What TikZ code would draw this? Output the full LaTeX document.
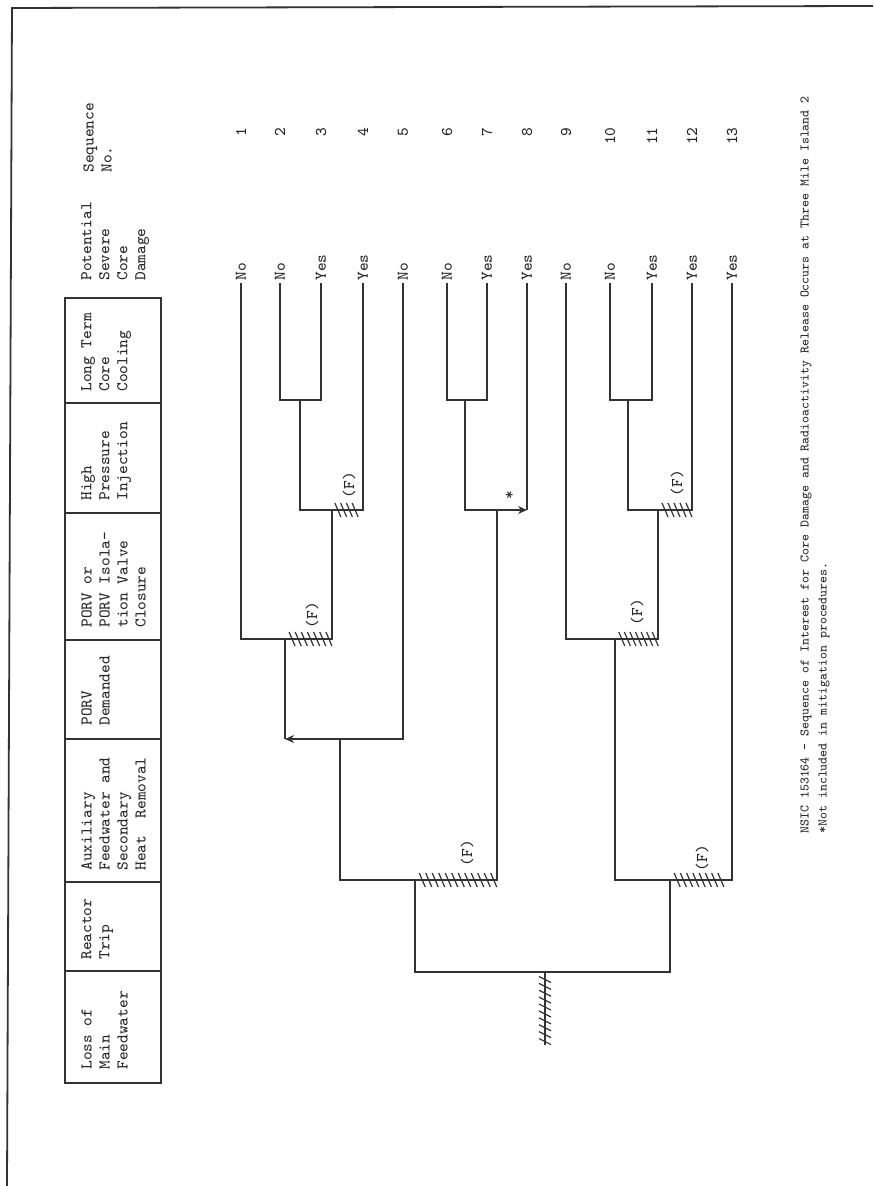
\documentclass[tikz,border=0pt]{standalone}
\usetikzlibrary{calc, positioning}
\usetikzlibrary{arrows.meta}

\tikzset{
  branch/.style={line width=0.9pt, draw=black!80},
  tick/.style={line width=0.6pt, draw=black!80},
  rotlabel/.style={rotate=90, inner sep=0pt, align=left, text=black!85,
    font=\ttfamily\fontsize{8.2}{9}\selectfont},
  caplabel/.style={rotlabel, font=\ttfamily\fontsize{6.55}{9}\selectfont},
  tip/.style={-{Stealth[length=4.5pt, width=4pt]}},
}

% short strokes across a failed branch
\newcommand{\hatchrow}[4]{%
  \foreach \k in {1,...,#4} {
    \pgfmathsetmacro{\hx}{#1+(#2-#1)*(\k-0.5)/#4}
    \draw[tick] (\hx-3,#3-7) -- (\hx+3,#3+7);
  }%
}
\newcommand{\hatchcol}[4]{%
  \foreach \k in {1,...,#4} {
    \pgfmathsetmacro{\hy}{#2+(#3-#2)*(\k-0.5)/#4}
    \draw[tick] (#1-6,\hy-3) -- (#1+6,\hy+3);
  }%
}

\begin{document}
\begin{tikzpicture}[x=0.5pt, y=-0.5pt]
\useasboundingbox (0,0) rectangle (873,1186);

\def\yEnd{283}
\def\yLT{400}
\def\yHP{510}
\def\yPI{639}
\def\yPD{739}
\def\yAF{880}
\def\yRT{972}
\def\yIE{1045}

% page edge
\draw[branch] (873,6) -- (12,8) -- (7,1186);

% heading boxes
\draw[branch] (65,298) rectangle (161,1083);
\foreach \y in {403,513,640,739,882,971} {
  \draw[branch] (65,\y) -- (161,\y);
}

\node[rotlabel, anchor=north west] (hSeq) at (83,173) {Sequence\\No.};
\node[rotlabel, anchor=north west] (hPSCD) at (81,281) {Potential\\Severe\\Core\\Damage};
\node[rotlabel, anchor=north west] (hLTCC) at (81,392) {Long Term\\Core\\Cooling};
\node[rotlabel, anchor=north west] (hHPI) at (81,501) {High\\Pressure\\Injection};
\node[rotlabel, anchor=north west] (hIso) at (81,628) {PORV or\\PORV Isola-\\tion Valve\\Closure};
\node[rotlabel, anchor=north west] (hPORV) at (81,726) {PORV\\Demanded};
\node[rotlabel, anchor=north west] (hAFW) at (81,871) {Auxiliary\\Feedwater and\\Secondary\\Heat\ \ Removal};
\node[rotlabel, anchor=north west] (hRT) at (81,960) {Reactor\\Trip};
\node[rotlabel, anchor=north west] (hLMFW) at (81,1070) {Loss of\\Main\\Feedwater};

% end points of the thirteen sequences
\foreach \i/\x/\res in {1/241/No, 2/280/No, 3/321/Yes, 4/363/Yes, 5/403/No,
    6/447/No, 7/487/Yes, 8/527/Yes, 9/566/No, 10/610/No, 11/652/Yes,
    12/692/Yes, 13/732/Yes} {
  \coordinate (leaf\i) at (\x,\yEnd);
  \node[rotlabel, anchor=west, inner sep=1pt] (out\i) at (leaf\i) {\res};
  \node[rotlabel, anchor=east] (seq\i) at (\x,127) {\i};
}

% branch points
\coordinate (ie) at (545,\yIE);
\coordinate (rt) at (545,\yRT);
\coordinate (af1) at (415,\yAF);
\coordinate (af2) at (670,\yAF);
\coordinate (pd1) at (340,\yPD);
\coordinate (pi1) at (285,\yPI);
\coordinate (pi2) at (615,\yPI);
\coordinate (hp1) at (332,\yHP);
\coordinate (hp2) at (497,\yHP);
\coordinate (hp3) at (658,\yHP);
\coordinate (lt1) at (300,\yLT);
\coordinate (lt2) at (465,\yLT);
\coordinate (lt3) at (628,\yLT);

\draw[branch] (ie) -- (rt);
\draw[branch] (af1) |- (rt) -| (af2);
\draw[branch] (pd1) |- (af1) -| (hp2);
\draw[branch] (pi2) |- (af2) -| (leaf13);

\draw[branch] (leaf5) |- (pd1);
\draw[branch, tip] (pd1) -- (pd1 -| pi1);
\draw[branch] (pd1 -| pi1) -- (pi1);

\draw[branch] (leaf1) |- (pi1) -| (hp1);
\draw[branch] (lt1) |- (hp1) -| (leaf4);
\draw[branch] (leaf2) |- (lt1) -| (leaf3);

\draw[branch] (lt2) |- (hp2);
\draw[branch, tip] (hp2) -- (hp2 -| leaf8);
\draw[branch] (hp2 -| leaf8) -- (leaf8);
\draw[branch] (leaf6) |- (lt2) -| (leaf7);

\draw[branch] (leaf9) |- (pi2) -| (hp3);
\draw[branch] (lt3) |- (hp3) -| (leaf12);
\draw[branch] (leaf10) |- (lt3) -| (leaf11);

% failure marks
\hatchcol{545}{976}{1045}{10}
\hatchrow{419}{497}{\yAF}{12}
\hatchrow{674}{724}{\yAF}{8}
\hatchrow{289}{332}{\yPI}{7}
\hatchrow{619}{658}{\yPI}{7}
\hatchrow{335}{358}{\yHP}{4}
\hatchrow{662}{692}{\yHP}{5}

\node[rotlabel] (fAF1) at (467,853) {(F)};
\node[rotlabel] (fAF2) at (702,858) {(F)};
\node[rotlabel] (fPI1) at (312,615) {(F)};
\node[rotlabel] (fPI2) at (637,612) {(F)};
\node[rotlabel] (fHP1) at (349,485) {(F)};
\node[rotlabel] (fHP2) at (677,483) {(F)};
\node[rotlabel] (star) at (510,495) {*};

% caption
\node[caplabel, anchor=north west] (cap) at (800,834)
  {NSIC 153164 — Sequence of Interest for Core Damage and Radioactivity Release Occurs at Three Mile Island 2\\*Not included in mitigation procedures.};
\end{tikzpicture}
\end{document}
